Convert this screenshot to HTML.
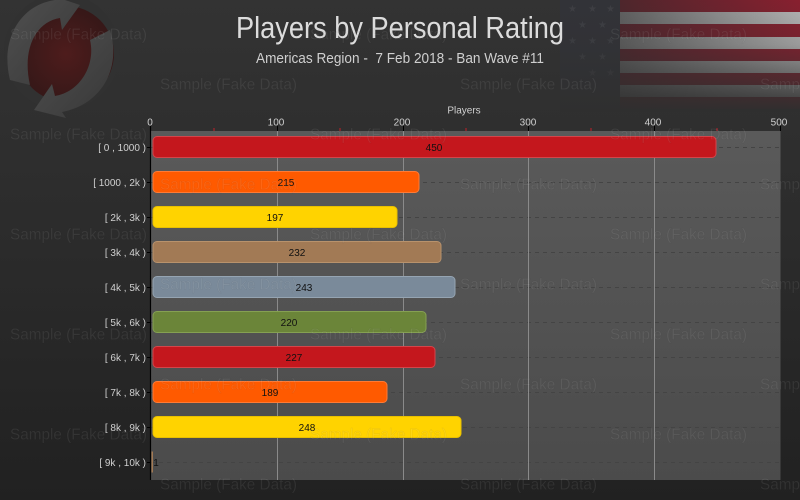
<!DOCTYPE html>
<html><head><meta charset="utf-8"><style>
html,body{margin:0;padding:0;background:#2a2a2a;}
svg{display:block;}
text{font-family:"Liberation Sans Narrow","Liberation Sans",sans-serif;}
</style></head><body>
<svg width="800" height="500" viewBox="0 0 800 500" xmlns="http://www.w3.org/2000/svg">
<defs>
<linearGradient id="bg" x1="0" y1="0" x2="0" y2="1">
<stop offset="0" stop-color="#333333"/><stop offset="0.5" stop-color="#2b2b2b"/><stop offset="1" stop-color="#212121"/>
</linearGradient>
<linearGradient id="plotbg" x1="0" y1="0" x2="0" y2="1">
<stop offset="0" stop-color="#5a5a5a"/><stop offset="1" stop-color="#4b4b4b"/>
</linearGradient>
<linearGradient id="redS" x1="0" y1="0" x2="1" y2="0">
<stop offset="0" stop-color="#4e262c"/><stop offset="1" stop-color="#88202f"/>
</linearGradient>
<linearGradient id="whiteS" x1="0" y1="0" x2="1" y2="0">
<stop offset="0" stop-color="#606060"/><stop offset="1" stop-color="#b5b5b5"/>
</linearGradient>
<linearGradient id="fadeDown" x1="0" y1="0" x2="0" y2="1">
<stop offset="0" stop-color="#2f2f2f" stop-opacity="0"/><stop offset="0.4" stop-color="#2f2f2f" stop-opacity="0.2"/><stop offset="1" stop-color="#2f2f2f" stop-opacity="1"/>
</linearGradient>
<radialGradient id="logoRed" cx="0.5" cy="0.5" r="0.5">
<stop offset="0" stop-color="#4e1c1c"/><stop offset="1" stop-color="#361818"/>
</radialGradient>
<linearGradient id="arrowG" x1="0" y1="0" x2="1" y2="1">
<stop offset="0" stop-color="#505050"/><stop offset="1" stop-color="#383838"/>
</linearGradient>
</defs>
<rect width="800" height="500" fill="url(#bg)"/>

<!-- logo -->
<g>
<circle cx="62" cy="52" r="58" fill="#313131"/>
<circle cx="66" cy="54" r="48" fill="url(#logoRed)"/>
<path d="M10,80 C0,40 20,5 55,0 L50,-5 L80,5 L62,30 L60,18 C35,22 22,50 30,85 Z" fill="url(#arrowG)"/>
<path d="M110,30 C122,70 100,105 62,112 L66,118 L34,110 L52,84 L55,96 C80,92 96,65 90,40 Z" fill="url(#arrowG)"/>
</g>

<!-- flag -->
<rect x="560" y="0" width="60" height="110" fill="#323338"/>
<g fill="#3e3f44" font-size="10" font-family="DejaVu Sans, sans-serif">
<text x="568" y="12">★</text><text x="588" y="12">★</text><text x="606" y="12">★</text>
<text x="578" y="28">★</text><text x="598" y="28">★</text>
<text x="568" y="44">★</text><text x="588" y="44">★</text><text x="606" y="44">★</text>
<text x="578" y="60">★</text><text x="598" y="60">★</text>
<text x="588" y="76">★</text><text x="606" y="76">★</text>
</g>
<rect x="620" y="0" width="180" height="12" fill="url(#redS)"/>
<rect x="620" y="12" width="180" height="12" fill="url(#whiteS)"/>
<rect x="620" y="24" width="180" height="13" fill="url(#redS)"/>
<rect x="620" y="37" width="180" height="12" fill="url(#whiteS)"/>
<rect x="620" y="49" width="180" height="12" fill="url(#redS)"/>
<rect x="620" y="61" width="180" height="12" fill="url(#whiteS)"/>
<rect x="620" y="73" width="180" height="12" fill="url(#redS)"/>
<rect x="620" y="85" width="180" height="12" fill="url(#whiteS)"/>
<rect x="620" y="97" width="180" height="12" fill="url(#redS)"/>
<rect x="560" y="0" width="240" height="112" fill="url(#fadeDown)"/>

<!-- titles -->
<text x="400" y="38" font-size="31" fill="#dcdcdc" text-anchor="middle" textLength="328" lengthAdjust="spacingAndGlyphs">Players by Personal Rating</text>
<text x="400" y="63" font-size="15" fill="#cfcfcf" text-anchor="middle" textLength="288" lengthAdjust="spacingAndGlyphs" xml:space="preserve">Americas Region -  7 Feb 2018 - Ban Wave #11</text>

<!-- plot area -->
<rect x="151" y="131" width="629.5" height="349" fill="url(#plotbg)"/>
<g stroke="#444" stroke-width="1" stroke-dasharray="4,4">
<line x1="151" x2="780" y1="147.5" y2="147.5"/><line x1="151" x2="780" y1="182.5" y2="182.5"/>
<line x1="151" x2="780" y1="217.5" y2="217.5"/><line x1="151" x2="780" y1="252.5" y2="252.5"/>
<line x1="151" x2="780" y1="287.5" y2="287.5"/><line x1="151" x2="780" y1="322.5" y2="322.5"/>
<line x1="151" x2="780" y1="357.5" y2="357.5"/><line x1="151" x2="780" y1="392.5" y2="392.5"/>
<line x1="151" x2="780" y1="427.5" y2="427.5"/><line x1="151" x2="780" y1="462.5" y2="462.5"/>
</g>
<g stroke="#8a8a8a" stroke-width="1">
<line x1="277.5" x2="277.5" y1="131" y2="480"/><line x1="403.5" x2="403.5" y1="131" y2="480"/>
<line x1="528.5" x2="528.5" y1="131" y2="480"/><line x1="654.5" x2="654.5" y1="131" y2="480"/>
</g>
<!-- axis -->
<line x1="150.5" x2="150.5" y1="126" y2="480" stroke="#000" stroke-width="1.2"/>
<g stroke="#000" stroke-width="1">
<line x1="277.5" x2="277.5" y1="126" y2="131"/><line x1="403.5" x2="403.5" y1="126" y2="131"/>
<line x1="528.5" x2="528.5" y1="126" y2="131"/><line x1="654.5" x2="654.5" y1="126" y2="131"/>
<line x1="780.5" x2="780.5" y1="126" y2="131"/>
</g>
<g stroke="#c0202a" stroke-width="1">
<line x1="214" x2="214" y1="128" y2="131"/><line x1="340" x2="340" y1="128" y2="131"/>
<line x1="466" x2="466" y1="128" y2="131"/><line x1="591" x2="591" y1="128" y2="131"/>
<line x1="717" x2="717" y1="128" y2="131"/>
</g>
<g font-size="10" fill="#d0d0d0" text-anchor="middle">
<text x="150" y="125.5">0</text><text x="276" y="125.5">100</text><text x="402" y="125.5">200</text>
<text x="528" y="125.5">300</text><text x="653" y="125.5">400</text><text x="779" y="125.5">500</text>
<text x="464" y="113.5">Players</text>
</g>
<g stroke="#000" stroke-width="1">
<line x1="147" x2="151" y1="147.5" y2="147.5"/><line x1="147" x2="151" y1="182.5" y2="182.5"/>
<line x1="147" x2="151" y1="217.5" y2="217.5"/><line x1="147" x2="151" y1="252.5" y2="252.5"/>
<line x1="147" x2="151" y1="287.5" y2="287.5"/><line x1="147" x2="151" y1="322.5" y2="322.5"/>
<line x1="147" x2="151" y1="357.5" y2="357.5"/><line x1="147" x2="151" y1="392.5" y2="392.5"/>
<line x1="147" x2="151" y1="427.5" y2="427.5"/><line x1="147" x2="151" y1="462.5" y2="462.5"/>
</g>
<g font-size="10" fill="#d0d0d0" text-anchor="end">
<text x="146" y="151">[ 0 , 1000 )</text>
<text x="146" y="186">[ 1000 , 2k )</text>
<text x="146" y="221">[ 2k , 3k )</text>
<text x="146" y="256">[ 3k , 4k )</text>
<text x="146" y="291">[ 4k , 5k )</text>
<text x="146" y="326">[ 5k , 6k )</text>
<text x="146" y="361">[ 6k , 7k )</text>
<text x="146" y="396">[ 7k , 8k )</text>
<text x="146" y="431">[ 8k , 9k )</text>
<text x="146" y="466">[ 9k , 10k )</text>
</g>

<!-- bars -->
<g stroke-width="1">
<rect x="153" y="136.5" width="563" height="21" rx="4" fill="#c4171d" stroke="#d4454a"/>
<rect x="153" y="171.5" width="266" height="21" rx="4" fill="#ff5a00" stroke="#ff7a35"/>
<rect x="153" y="206.5" width="244" height="21" rx="4" fill="#ffd300" stroke="#e8c000"/>
<rect x="153" y="241.5" width="288" height="21" rx="4" fill="#a27a55" stroke="#b8926c"/>
<rect x="153" y="276.5" width="302" height="21" rx="4" fill="#7a8a9a" stroke="#95a4b2"/>
<rect x="153" y="311.5" width="273" height="21" rx="4" fill="#6b8539" stroke="#85a052"/>
<rect x="153" y="346.5" width="282" height="21" rx="4" fill="#c4171d" stroke="#d4454a"/>
<rect x="153" y="381.5" width="234" height="21" rx="4" fill="#ff5a00" stroke="#ff7a35"/>
<rect x="153" y="416.5" width="308" height="21" rx="4" fill="#ffd300" stroke="#e8c000"/>
<rect x="151.5" y="451.5" width="1.5" height="21" fill="#a27a55"/>
</g>
<g font-size="10" fill="#111" text-anchor="middle">
<text x="434" y="151">450</text>
<text x="286" y="186">215</text>
<text x="275" y="221">197</text>
<text x="297" y="256">232</text>
<text x="304" y="291">243</text>
<text x="289" y="326">220</text>
<text x="294" y="361">227</text>
<text x="270" y="396">189</text>
<text x="307" y="431">248</text>
<text x="156" y="466">1</text>
</g>

<!-- watermarks -->
<g font-family="Liberation Sans, sans-serif" font-size="16" fill="#ffffff" fill-opacity="0.08" stroke="#000" stroke-opacity="0.08" stroke-width="0.5">
<text x="10" y="39.5" textLength="137" lengthAdjust="spacingAndGlyphs">Sample (Fake Data)</text>
<text x="310" y="39.5" textLength="137" lengthAdjust="spacingAndGlyphs">Sample (Fake Data)</text>
<text x="610" y="39.5" textLength="137" lengthAdjust="spacingAndGlyphs">Sample (Fake Data)</text>
<text x="160" y="89.5" textLength="137" lengthAdjust="spacingAndGlyphs">Sample (Fake Data)</text>
<text x="460" y="89.5" textLength="137" lengthAdjust="spacingAndGlyphs">Sample (Fake Data)</text>
<text x="760" y="89.5" textLength="137" lengthAdjust="spacingAndGlyphs">Sample (Fake Data)</text>
<text x="10" y="139.5" textLength="137" lengthAdjust="spacingAndGlyphs">Sample (Fake Data)</text>
<text x="310" y="139.5" textLength="137" lengthAdjust="spacingAndGlyphs">Sample (Fake Data)</text>
<text x="610" y="139.5" textLength="137" lengthAdjust="spacingAndGlyphs">Sample (Fake Data)</text>
<text x="160" y="189.5" textLength="137" lengthAdjust="spacingAndGlyphs">Sample (Fake Data)</text>
<text x="460" y="189.5" textLength="137" lengthAdjust="spacingAndGlyphs">Sample (Fake Data)</text>
<text x="760" y="189.5" textLength="137" lengthAdjust="spacingAndGlyphs">Sample (Fake Data)</text>
<text x="10" y="239.5" textLength="137" lengthAdjust="spacingAndGlyphs">Sample (Fake Data)</text>
<text x="310" y="239.5" textLength="137" lengthAdjust="spacingAndGlyphs">Sample (Fake Data)</text>
<text x="610" y="239.5" textLength="137" lengthAdjust="spacingAndGlyphs">Sample (Fake Data)</text>
<text x="160" y="289.5" textLength="137" lengthAdjust="spacingAndGlyphs">Sample (Fake Data)</text>
<text x="460" y="289.5" textLength="137" lengthAdjust="spacingAndGlyphs">Sample (Fake Data)</text>
<text x="760" y="289.5" textLength="137" lengthAdjust="spacingAndGlyphs">Sample (Fake Data)</text>
<text x="10" y="339.5" textLength="137" lengthAdjust="spacingAndGlyphs">Sample (Fake Data)</text>
<text x="310" y="339.5" textLength="137" lengthAdjust="spacingAndGlyphs">Sample (Fake Data)</text>
<text x="610" y="339.5" textLength="137" lengthAdjust="spacingAndGlyphs">Sample (Fake Data)</text>
<text x="160" y="389.5" textLength="137" lengthAdjust="spacingAndGlyphs">Sample (Fake Data)</text>
<text x="460" y="389.5" textLength="137" lengthAdjust="spacingAndGlyphs">Sample (Fake Data)</text>
<text x="760" y="389.5" textLength="137" lengthAdjust="spacingAndGlyphs">Sample (Fake Data)</text>
<text x="10" y="439.5" textLength="137" lengthAdjust="spacingAndGlyphs">Sample (Fake Data)</text>
<text x="310" y="439.5" textLength="137" lengthAdjust="spacingAndGlyphs">Sample (Fake Data)</text>
<text x="610" y="439.5" textLength="137" lengthAdjust="spacingAndGlyphs">Sample (Fake Data)</text>
<text x="160" y="489.5" textLength="137" lengthAdjust="spacingAndGlyphs">Sample (Fake Data)</text>
<text x="460" y="489.5" textLength="137" lengthAdjust="spacingAndGlyphs">Sample (Fake Data)</text>
<text x="760" y="489.5" textLength="137" lengthAdjust="spacingAndGlyphs">Sample (Fake Data)</text>
</g>
</svg>
</body></html>
